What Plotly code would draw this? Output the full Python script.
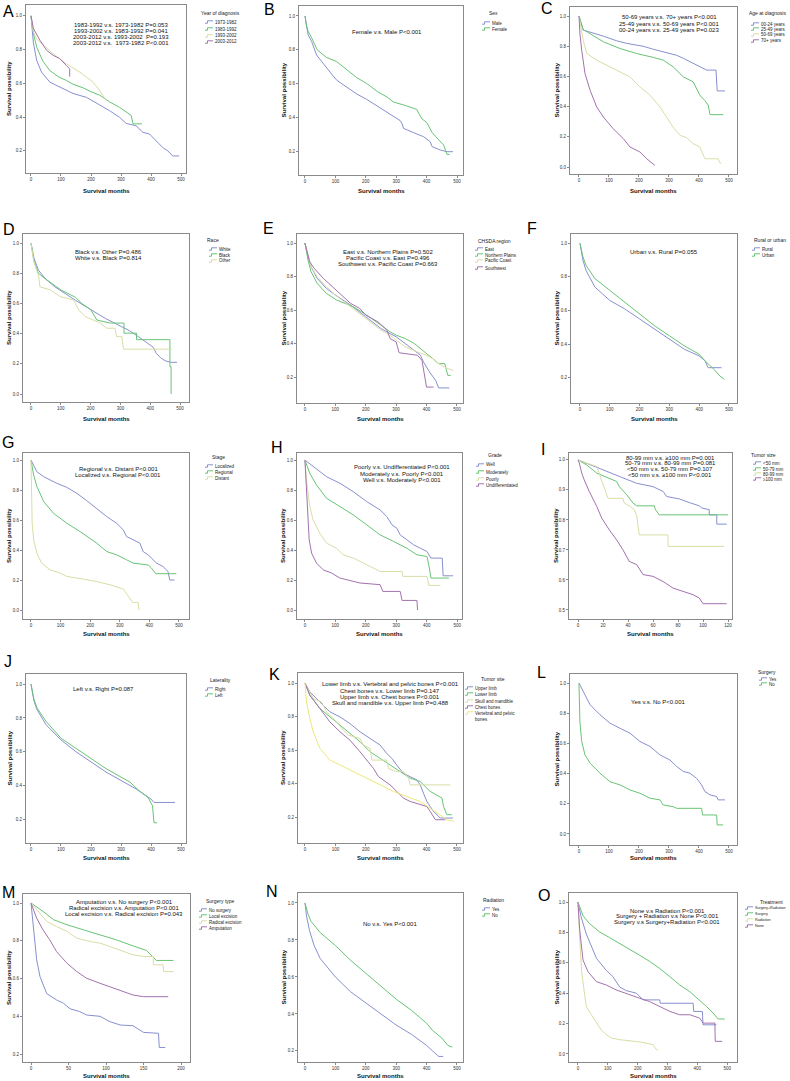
import plotly.graph_objects as go

W, H = 790, 1081
FONT = "Liberation Sans, Arial, sans-serif"
COLORS = ["#8790cf", "#68c474", "#dadda6", "#a372ae", "#ecea78"]

# ---------------- data ----------------
A_groups = ["1973-1982", "1983-1992", "1993-2002", "2003-2012"]
A_months = [
    [0, 8, 19, 35, 63, 96, 140, 185, 229, 262, 295, 317, 350, 373, 395, 417, 439, 456, 472, 494],
    [0, 5, 10, 20, 40, 63, 90, 118, 140, 174, 200, 229, 262, 295, 334, 340, 370],
    [0, 8, 20, 41, 74, 118, 163, 207, 229, 249],
    [0, 8, 30, 52, 74, 96, 118, 129, 129],
]
A_surv = [
    [1.0, 0.84, 0.736, 0.667, 0.607, 0.58, 0.54, 0.517, 0.474, 0.438, 0.399, 0.363, 0.349, 0.31, 0.30, 0.26, 0.22, 0.20, 0.17, 0.17],
    [1.0, 0.93, 0.88, 0.81, 0.73, 0.676, 0.64, 0.617, 0.595, 0.573, 0.55, 0.53, 0.49, 0.458, 0.41, 0.36, 0.36],
    [1.0, 0.905, 0.86, 0.825, 0.776, 0.716, 0.666, 0.607, 0.557, 0.504],
    [1.0, 0.925, 0.855, 0.796, 0.766, 0.746, 0.706, 0.686, 0.64],
]
A_pvals = ["1983-1992 v.s. 1973-1982 P=0.053", "1993-2002 v.s. 1983-1992 P=0.041",
           "2003-2012 v.s. 1993-2002  P=0.193", "2003-2012 v.s.  1973-1982 P<0.001"]

B_groups = ["Male", "Female"]
B_months = [
    [0, 5, 10, 22, 38, 55, 71, 88, 104, 120, 137, 170, 203, 236, 269, 291, 313, 320, 324, 357, 390, 412, 418, 445, 467, 487],
    [0, 5, 10, 22, 40, 70, 104, 140, 170, 203, 240, 270, 291, 330, 368, 375, 385, 400, 418, 430, 456, 462, 467, 476],
]
B_surv = [
    [1.0, 0.93, 0.89, 0.848, 0.769, 0.73, 0.69, 0.655, 0.62, 0.60, 0.58, 0.538, 0.506, 0.467, 0.433, 0.404, 0.38, 0.36, 0.334, 0.309, 0.285, 0.255, 0.226, 0.206, 0.196, 0.196],
    [1.0, 0.94, 0.91, 0.87, 0.80, 0.755, 0.73, 0.675, 0.635, 0.60, 0.55, 0.52, 0.49, 0.47, 0.446, 0.42, 0.39, 0.37, 0.31, 0.285, 0.236, 0.206, 0.18, 0.18],
]
B_pvals = ["Female v.s. Male P<0.001"]

C_groups = ["00-24 years", "25-49 years", "50-69 years", "70+ years"]
C_months = [
    [0, 14, 81, 126, 159, 214, 248, 303, 326, 348, 381, 403, 426, 457, 461, 487],
    [0, 14, 26, 81, 137, 192, 248, 281, 314, 348, 381, 403, 420, 431, 437, 481],
    [0, 5, 9, 14, 26, 59, 103, 137, 170, 203, 237, 270, 292, 314, 337, 359, 381, 403, 420, 464, 470, 475],
    [0, 3, 9, 20, 37, 59, 81, 114, 148, 170, 203, 226, 253],
]
C_surv = [
    [1.0, 0.907, 0.867, 0.836, 0.819, 0.80, 0.78, 0.752, 0.74, 0.72, 0.686, 0.664, 0.642, 0.642, 0.504, 0.504],
    [1.0, 0.91, 0.896, 0.83, 0.785, 0.752, 0.726, 0.708, 0.664, 0.597, 0.564, 0.476, 0.44, 0.41, 0.347, 0.347],
    [1.0, 0.95, 0.885, 0.84, 0.752, 0.708, 0.664, 0.63, 0.597, 0.531, 0.476, 0.398, 0.332, 0.265, 0.21, 0.195, 0.155, 0.133, 0.055, 0.055, 0.027, 0.027],
    [1.0, 0.885, 0.774, 0.62, 0.509, 0.398, 0.332, 0.254, 0.188, 0.133, 0.10, 0.055, 0.011],
]
C_pvals = ["50-69 years v.s. 70+ years P<0.001", "25-49 years v.s. 50-69 years P<0.001",
           "00-24 years v.s. 25-49 years P=0.023"]

D_groups = ["White", "Black", "Other"]
D_months = [
    [0, 10, 25, 50, 80, 110, 150, 200, 250, 300, 330, 360, 390, 410, 420, 435, 450, 470, 490],
    [0, 10, 25, 50, 100, 130, 150, 170, 200, 221, 266, 312, 312, 354, 354, 466, 466, 470, 470],
    [0, 9, 26, 30, 65, 98, 143, 160, 182, 209, 232, 254, 282, 287, 305, 310, 472],
]
D_surv = [
    [1.0, 0.9, 0.82, 0.76, 0.71, 0.67, 0.62, 0.56, 0.50, 0.45, 0.42, 0.38, 0.34, 0.31, 0.27, 0.24, 0.22, 0.21, 0.21],
    [1.0, 0.88, 0.80, 0.76, 0.69, 0.66, 0.64, 0.60, 0.56, 0.49, 0.47, 0.47, 0.403, 0.403, 0.36, 0.36, 0.18, 0.18, 0.0],
    [1.0, 0.88, 0.78, 0.71, 0.69, 0.645, 0.623, 0.557, 0.513, 0.49, 0.47, 0.436, 0.436, 0.38, 0.38, 0.297, 0.297],
]
D_pvals = ["Black v.s. Other P=0.486", "White v.s. Black P=0.814"]

E_groups = ["East", "Northern Plains", "Pacific Coast", "Southwest"]
E_months = [
    [0, 20, 40, 70, 100, 150, 200, 250, 280, 300, 330, 360, 380, 390, 400, 410, 430, 440, 475],
    [0, 10, 20, 40, 70, 104, 159, 203, 250, 280, 300, 330, 360, 380, 400, 420, 440, 460, 470, 480],
    [0, 20, 40, 70, 100, 150, 200, 250, 280, 300, 330, 370, 400, 420, 440, 470, 488],
    [0, 15, 30, 60, 90, 120, 150, 180, 200, 240, 270, 280, 300, 310, 370, 385, 400, 423],
]
E_surv = [
    [1.0, 0.86, 0.79, 0.73, 0.69, 0.63, 0.56, 0.49, 0.46, 0.44, 0.40, 0.36, 0.33, 0.29, 0.26, 0.23, 0.18, 0.135, 0.135],
    [1.0, 0.90, 0.83, 0.76, 0.70, 0.66, 0.62, 0.57, 0.51, 0.47, 0.45, 0.43, 0.40, 0.37, 0.34, 0.31, 0.28, 0.28, 0.21, 0.21],
    [1.0, 0.86, 0.80, 0.74, 0.69, 0.62, 0.55, 0.48, 0.45, 0.42, 0.38, 0.35, 0.33, 0.31, 0.28, 0.25, 0.24],
    [1.0, 0.89, 0.85, 0.79, 0.74, 0.69, 0.64, 0.61, 0.57, 0.53, 0.48, 0.43, 0.41, 0.345, 0.33, 0.30, 0.14, 0.14],
]
E_pvals = ["East v.s. Northern Plains P=0.502", "Pacific Coast v.s. East P=0.496",
           "Southwest v.s. Pacific Coast P=0.663"]

F_groups = ["Rural", "Urban"]
F_months = [
    [0, 10, 20, 50, 100, 150, 200, 250, 300, 350, 400, 420, 430, 475],
    [0, 10, 20, 50, 100, 150, 200, 250, 300, 350, 400, 420, 450, 470, 485],
]
F_surv = [
    [1.0, 0.9, 0.84, 0.74, 0.66, 0.61, 0.55, 0.49, 0.43, 0.37, 0.33, 0.30, 0.26, 0.26],
    [1.0, 0.92, 0.87, 0.79, 0.72, 0.65, 0.58, 0.51, 0.45, 0.39, 0.34, 0.30, 0.25, 0.21, 0.19],
]
F_pvals = ["Urban v.s. Rural P=0.055"]

G_groups = ["Localized", "Regional", "Distant"]
G_months = [
    [0, 20, 43, 87, 121, 155, 188, 222, 256, 289, 312, 323, 345, 368, 379, 396, 407, 424, 446, 463, 469, 485],
    [0, 9, 20, 43, 76, 121, 166, 200, 222, 256, 289, 323, 345, 396, 407, 422, 491],
    [0, 1, 4, 9, 20, 36, 64, 99, 121, 177, 222, 267, 312, 323, 334, 343, 362, 365],
]
G_surv = [
    [1.0, 0.922, 0.889, 0.845, 0.818, 0.778, 0.73, 0.678, 0.623, 0.579, 0.534, 0.49, 0.468, 0.446, 0.39, 0.368, 0.346, 0.313, 0.29, 0.257, 0.20, 0.20],
    [1.0, 0.90, 0.823, 0.723, 0.645, 0.579, 0.523, 0.479, 0.446, 0.39, 0.368, 0.335, 0.313, 0.30, 0.28, 0.242, 0.242],
    [1.0, 0.756, 0.579, 0.468, 0.379, 0.313, 0.268, 0.246, 0.224, 0.206, 0.19, 0.168, 0.14, 0.109, 0.08, 0.051, 0.051, 0.0],
]
G_pvals = ["Regional v.s. Distant P<0.001", "Localized v.s. Regional P<0.001"]

H_groups = ["Well", "Moderately", "Poorly", "Undifferentiated"]
H_months = [
    [0, 27, 71, 115, 159, 203, 247, 269, 286, 302, 313, 335, 357, 379, 401, 414, 451, 454, 487],
    [0, 5, 16, 38, 71, 115, 159, 203, 247, 291, 335, 368, 401, 407, 414, 473],
    [0, 5, 16, 27, 49, 71, 104, 126, 159, 181, 214, 247, 319, 322, 401, 407, 445],
    [0, 3, 8, 14, 22, 38, 60, 88, 115, 159, 181, 247, 256, 313, 319, 368, 370],
]
H_surv = [
    [1.0, 0.956, 0.889, 0.845, 0.789, 0.723, 0.667, 0.623, 0.568, 0.545, 0.501, 0.468, 0.435, 0.412, 0.39, 0.346, 0.346, 0.228, 0.228],
    [1.0, 0.967, 0.911, 0.834, 0.745, 0.69, 0.634, 0.568, 0.501, 0.457, 0.412, 0.368, 0.357, 0.30, 0.213, 0.213],
    [1.0, 0.867, 0.69, 0.60, 0.512, 0.446, 0.412, 0.368, 0.346, 0.324, 0.29, 0.257, 0.257, 0.224, 0.224, 0.164, 0.164],
    [1.0, 0.867, 0.667, 0.468, 0.379, 0.313, 0.268, 0.246, 0.213, 0.191, 0.18, 0.169, 0.124, 0.124, 0.064, 0.064, 0.0],
]
H_pvals = ["Poorly v.s. Undifferentiated P<0.001", "Moderately v.s. Poorly P<0.001",
           "Well v.s. Moderately P<0.001"]

I_groups = ["<50 mm", "50-79 mm", "80-99 mm", "≥100 mm"]
I_months = [
    [0, 7, 20, 33, 47, 60, 68, 71, 81, 89, 97, 99, 105, 105, 111, 111, 119],
    [0, 7, 15, 24, 31, 33, 39, 44, 47, 61, 62, 65, 120],
    [0, 3, 15, 19, 21, 24, 36, 37, 41, 45, 47, 48, 49, 72, 72, 117],
    [0, 1, 3, 5, 9, 15, 19, 25, 31, 36, 41, 47, 52, 60, 68, 76, 84, 92, 97, 100, 119],
]
I_surv = [
    [1.0, 0.989, 0.967, 0.945, 0.922, 0.911, 0.895, 0.878, 0.87, 0.858, 0.847, 0.84, 0.834, 0.817, 0.817, 0.786, 0.786],
    [1.0, 0.983, 0.956, 0.939, 0.928, 0.911, 0.884, 0.856, 0.847, 0.847, 0.834, 0.817, 0.817],
    [1.0, 0.995, 0.978, 0.933, 0.906, 0.872, 0.872, 0.856, 0.847, 0.834, 0.812, 0.784, 0.75, 0.75, 0.712, 0.712],
    [1.0, 0.99, 0.956, 0.933, 0.895, 0.845, 0.806, 0.767, 0.733, 0.70, 0.662, 0.651, 0.618, 0.612, 0.595, 0.573, 0.562, 0.551, 0.54, 0.521, 0.521],
]
I_pvals = ["80-99 mm v.s. ≥100 mm P=0.001", "50-79 mm v.s. 80-99 mm P=0.081",
           "<50 mm v.s. 50-79 mm P=0.107", "<50 mm v.s. ≥100 mm P<0.001"]

J_groups = ["Right", "Left"]
J_months = [
    [0, 10, 20, 50, 100, 150, 200, 250, 300, 350, 400, 410, 480],
    [0, 10, 20, 50, 100, 150, 200, 250, 300, 330, 360, 390, 405, 410, 420],
]
J_surv = [
    [1.0, 0.9, 0.85, 0.76, 0.67, 0.60, 0.54, 0.48, 0.43, 0.38, 0.32, 0.30, 0.30],
    [1.0, 0.91, 0.86, 0.78, 0.68, 0.62, 0.56, 0.50, 0.45, 0.42, 0.37, 0.33, 0.28, 0.18, 0.18],
]
J_pvals = ["Left v.s. Right P=0.087"]

K_groups = ["Upper limb", "Lower limb", "Skull and mandible", "Chest bones", "Vertebral and pelvic bones"]
K_months = [
    [0, 16, 49, 82, 115, 148, 181, 214, 247, 269, 286, 302, 324, 346, 368, 379, 390, 401, 412, 423, 445, 487],
    [0, 16, 49, 82, 115, 148, 181, 214, 247, 280, 313, 346, 379, 396, 412, 451, 456, 467, 483],
    [0, 27, 55, 71, 104, 126, 143, 159, 181, 192, 214, 220, 269, 275, 302, 324, 341, 346, 478],
    [0, 16, 49, 82, 115, 148, 181, 203, 225, 242, 258, 280, 302, 324, 346, 379, 401, 412, 429, 462],
    [0, 5, 16, 27, 49, 82, 115, 159, 203, 247, 291, 335, 379, 412, 445, 467, 489],
]
K_surv = [
    [1.0, 0.947, 0.887, 0.828, 0.798, 0.758, 0.709, 0.669, 0.63, 0.58, 0.55, 0.51, 0.461, 0.441, 0.422, 0.392, 0.342, 0.293, 0.263, 0.234, 0.194, 0.194],
    [1.0, 0.927, 0.848, 0.798, 0.749, 0.70, 0.65, 0.59, 0.55, 0.511, 0.471, 0.432, 0.412, 0.382, 0.353, 0.313, 0.263, 0.214, 0.214],
    [1.0, 0.907, 0.887, 0.828, 0.768, 0.719, 0.689, 0.68, 0.669, 0.63, 0.61, 0.54, 0.54, 0.49, 0.471, 0.471, 0.432, 0.392, 0.392],
    [1.0, 0.927, 0.848, 0.768, 0.709, 0.659, 0.59, 0.54, 0.491, 0.441, 0.422, 0.392, 0.353, 0.313, 0.293, 0.273, 0.263, 0.234, 0.184, 0.184],
    [1.0, 0.887, 0.788, 0.709, 0.61, 0.54, 0.511, 0.471, 0.432, 0.392, 0.353, 0.323, 0.293, 0.253, 0.214, 0.184, 0.174],
]
K_pvals = ["Lower limb v.s. Vertebral and pelvic bones P<0.001", "Chest bones v.s. Lower limb P=0.147",
           "Upper limb v.s. Chest bones P<0.001", "Skull and mandible v.s. Upper limb P=0.488"]

L_groups = ["Yes", "No"]
L_months = [
    [0, 14, 37, 70, 103, 137, 170, 203, 237, 270, 303, 326, 348, 370, 392, 409, 420, 437, 459, 464, 487],
    [0, 1, 3, 9, 20, 37, 70, 103, 137, 170, 203, 237, 270, 281, 314, 326, 409, 412, 459, 461, 481],
]
L_surv = [
    [1.0, 0.945, 0.856, 0.79, 0.735, 0.70, 0.668, 0.613, 0.58, 0.524, 0.491, 0.447, 0.414, 0.403, 0.369, 0.325, 0.281, 0.259, 0.248, 0.226, 0.226],
    [1.0, 0.90, 0.745, 0.613, 0.524, 0.469, 0.403, 0.347, 0.325, 0.292, 0.27, 0.237, 0.226, 0.192, 0.181, 0.17, 0.17, 0.126, 0.126, 0.06, 0.06],
]
L_pvals = ["Yes v.s. No P<0.001"]

M_groups = ["No surgery", "Local excision", "Radical excision", "Amputation"]
M_months = [
    [0, 3, 7.5, 12, 21, 34, 43, 52, 65, 74, 92, 105, 119, 136, 150, 170, 171, 179],
    [0, 16, 30, 48, 70, 92, 114, 136, 154, 163, 167, 190],
    [0, 12, 21, 34, 48, 61, 79, 92, 105, 119, 136, 150, 163, 163, 176, 177, 190],
    [0, 3, 7.5, 16, 25, 34, 48, 61, 74, 92, 110, 123, 136, 150, 183],
]
M_surv = [
    [1.0, 0.876, 0.70, 0.61, 0.52, 0.487, 0.47, 0.44, 0.425, 0.407, 0.40, 0.372, 0.354, 0.35, 0.315, 0.31, 0.235, 0.235],
    [1.0, 0.956, 0.912, 0.885, 0.858, 0.832, 0.805, 0.773, 0.749, 0.713, 0.696, 0.696],
    [1.0, 0.947, 0.903, 0.876, 0.85, 0.814, 0.796, 0.788, 0.77, 0.752, 0.726, 0.717, 0.717, 0.673, 0.673, 0.637, 0.637],
    [1.0, 0.965, 0.92, 0.858, 0.805, 0.743, 0.681, 0.637, 0.602, 0.575, 0.549, 0.531, 0.513, 0.504, 0.504],
]
M_pvals = ["Amputation v.s. No surgery P<0.001", "Radical excision v.s. Amputation P<0.001",
           "Local excision v.s. Radical excision P=0.043"]

N_groups = ["Yes", "No"]
N_months = [
    [0, 5, 15, 30, 50, 100, 150, 200, 250, 300, 350, 400, 420, 440, 455],
    [0, 10, 20, 50, 100, 150, 200, 250, 300, 350, 400, 420, 450, 470, 485],
]
N_surv = [
    [1.0, 0.93, 0.85, 0.77, 0.70, 0.60, 0.52, 0.46, 0.40, 0.34, 0.29, 0.23, 0.20, 0.17, 0.17],
    [1.0, 0.94, 0.90, 0.84, 0.77, 0.69, 0.62, 0.55, 0.48, 0.42, 0.35, 0.31, 0.27, 0.23, 0.22],
]
N_pvals = ["No v.s. Yes P<0.001"]

O_groups = ["Surgery+Radiation", "Surgery", "Radiation", "None"]
O_months = [
    [0, 11, 28, 45, 62, 95, 117, 140, 162, 196, 218, 274, 276, 386, 388, 417, 419, 464],
    [0, 17, 39, 73, 106, 140, 173, 207, 240, 274, 308, 341, 375, 408, 431, 453, 470, 492],
    [0, 3, 8, 13, 19, 28, 45, 62, 78, 95, 112, 140, 218, 252, 263, 268],
    [0, 6, 17, 34, 62, 95, 129, 162, 207, 240, 274, 308, 341, 375, 408, 420, 459, 460, 483],
]
O_surv = [
    [1.0, 0.90, 0.79, 0.705, 0.63, 0.55, 0.51, 0.44, 0.417, 0.40, 0.356, 0.356, 0.334, 0.334, 0.28, 0.28, 0.192, 0.192],
    [1.0, 0.91, 0.858, 0.803, 0.766, 0.727, 0.694, 0.65, 0.61, 0.563, 0.509, 0.454, 0.41, 0.356, 0.312, 0.269, 0.23, 0.23],
    [1.0, 0.836, 0.683, 0.53, 0.432, 0.312, 0.258, 0.203, 0.159, 0.127, 0.105, 0.094, 0.076, 0.061, 0.028, 0.028],
    [1.0, 0.815, 0.618, 0.541, 0.476, 0.454, 0.421, 0.40, 0.367, 0.345, 0.312, 0.28, 0.258, 0.258, 0.236, 0.203, 0.203, 0.083, 0.083],
]
O_pvals = ["None v.s Radiation P<0.001", "Surgery + Radiation v.s None P<0.001",
           "Surgery v.s Surgery+Radiation P<0.001"]

LEGEND_TITLES = {"A": "Year of diagnosis", "B": "Sex", "C": "Age at diagnosis", "D": "Race",
                 "E": "CHSDA region", "F": "Rural or urban", "G": "Stage", "H": "Grade",
                 "I": "Tumor size", "J": "Laterality", "K": "Tumor site", "L": "Surgery",
                 "M": "Surgery type", "N": "Radiation", "O": "Treatment"}

DATA = {
    "A": (A_groups, A_months, A_surv, A_pvals), "B": (B_groups, B_months, B_surv, B_pvals),
    "C": (C_groups, C_months, C_surv, C_pvals), "D": (D_groups, D_months, D_surv, D_pvals),
    "E": (E_groups, E_months, E_surv, E_pvals), "F": (F_groups, F_months, F_surv, F_pvals),
    "G": (G_groups, G_months, G_surv, G_pvals), "H": (H_groups, H_months, H_surv, H_pvals),
    "I": (I_groups, I_months, I_surv, I_pvals), "J": (J_groups, J_months, J_surv, J_pvals),
    "K": (K_groups, K_months, K_surv, K_pvals), "L": (L_groups, L_months, L_surv, L_pvals),
    "M": (M_groups, M_months, M_surv, M_pvals), "N": (N_groups, N_months, N_surv, N_pvals),
    "O": (O_groups, O_months, O_surv, O_pvals),
}

# ---------------- layout configuration (pixel positions) ----------------
CFG = {
    "A": dict(box=(26, 5, 186, 173), xr=(-16.6, 516.6), yr=(0.069, 1.064), xd=100, yd=0.2, letter=(8, 11),
              leg=(205, 220, 13, [22, 29, 36, 42]), pv=(121, [25, 31, 37, 43], "center")),
    "B": dict(box=(299, 6, 463, 175), xr=(-19.7, 519.7), yr=(0.058, 1.059), xd=100, yd=0.2, letter=(269, 10),
              leg=(482, 493, 13, [23, 29]), pv=(387, [32], "center")),
    "C": dict(box=(570, 7, 737, 174), xr=(-30, 527), yr=(-0.046, 1.06), xd=100, yd=0.2, letter=(547, 9),
              leg=(751, 767, 13, [24, 29, 35, 41]), pv=(669, [17, 24, 30], "center")),
    "D": dict(box=(23, 234, 189, 402), xr=(-26.8, 530), yr=(-0.053, 1.06), xd=100, yd=0.2, letter=(9, 230),
              leg=(209, 213, 240, [249, 255, 261]), pv=(74, [252, 258], "left")),
    "E": dict(box=(297, 234, 463, 403), xr=(-26, 520), yr=(0.045, 1.054), xd=100, yd=0.2, letter=(268, 229),
              leg=(475, 494, 241, [249, 255, 261, 268]), pv=(388, [252, 258, 264], "center")),
    "F": dict(box=(571, 234, 737, 403), xr=(-30, 527), yr=(0.05, 1.055), xd=100, yd=0.2, letter=(532, 229),
              leg=(752, 770, 240, [249, 255]), pv=(664, [252], "center")),
    "G": dict(box=(23, 453, 189, 619), xr=(-27, 534), yr=(-0.06, 1.047), xd=100, yd=0.2, letter=(8, 442),
              leg=(205, 219, 457, [466, 472, 478]), pv=(118, [469, 475], "center")),
    "H": dict(box=(297, 453, 462, 619), xr=(-26, 516), yr=(-0.06, 1.047), xd=100, yd=0.2, letter=(277, 447),
              leg=(476, 495, 455, [465, 472, 479, 485]), pv=(402, [467, 474, 480], "center")),
    "I": dict(box=(569, 453, 732, 619), xr=(-7.2, 123.2), yr=(0.47, 1.023), xd=20, yd=0.1, letter=(543, 449),
              leg=(753, 763, 455, [463, 469, 474, 479]), pv=(670, [458, 463, 469, 475], "center")),
    "J": dict(box=(26, 674, 186, 843), xr=(-16.6, 516.6), yr=(0.06, 1.06), xd=100, yd=0.2, letter=(8, 661),
              leg=(205, 220, 680, [689, 695]), pv=(103, [689], "center")),
    "K": dict(box=(298, 673, 463, 843), xr=(-23, 520), yr=(0.045, 1.06), xd=100, yd=0.2, letter=(274, 674),
              leg=(465, 493, 679, [688, 694, 701, 707, 713]), pv=(390, [684, 691, 697, 703], "center")),
    "L": dict(box=(570, 674, 737, 845), xr=(-30, 527), yr=(-0.073, 1.06), xd=100, yd=0.2, letter=(541, 672),
              leg=(759, 767, 672, [679, 684]), pv=(658, [702], "center")),
    "M": dict(box=(23, 894, 190, 1062), xr=(-10.7, 212), yr=(0.158, 1.048), xd=50, yd=0.2, letter=(8, 892),
              leg=(199, 220, 901, [910, 916, 922, 928]), pv=(124, [902, 908, 914], "center")),
    "N": dict(box=(298, 893, 463, 1062), xr=(-23, 520), yr=(0.14, 1.054), xd=100, yd=0.2, letter=(272, 891),
              leg=(482, 493, 900, [909, 915]), pv=(390, [924], "center")),
    "O": dict(box=(569, 893, 737, 1062), xr=(-30, 533), yr=(-0.053, 1.06), xd=100, yd=0.2, letter=(544, 895),
              leg=(745, 771, 902, [908, 914, 920, 926]), pv=(667, [911, 916, 922], "center"), lf=3.7),
}
ORDER = "ABCDEFGHIJKLMNO"
XTITLE_Y = [191, 419, 634, 858, 1076]
YTITLE_X = [9, 283, 556]


def px(x):
    return x / W


def py(y):
    return 1 - y / H


fig = go.Figure()
layout = dict(width=W, height=H, margin=dict(l=0, r=0, t=0, b=0), autosize=False,
              paper_bgcolor="white", plot_bgcolor="white", showlegend=False,
              font=dict(family=FONT, color="#000"))
annotations = []
shapes = []

for idx, key in enumerate(ORDER):
    n = idx + 1
    cfg = CFG[key]
    groups, months, surv, pvals = DATA[key]
    xa = "x" if n == 1 else f"x{n}"
    ya = "y" if n == 1 else f"y{n}"
    for gi, (g, t, s) in enumerate(zip(groups, months, surv)):
        fig.add_trace(go.Scatter(x=t, y=s, mode="lines", name=g, xaxis=xa, yaxis=ya,
                                 line=dict(color=COLORS[gi], width=1), hoverinfo="skip"))
    x0, y0, x1, y1 = cfg["box"]
    axcommon = dict(showline=True, mirror=True, linecolor="#8a8a8a", linewidth=1, showgrid=False,
                    zeroline=False, ticks="outside", ticklen=2, tickwidth=1, tickcolor="#8a8a8a",
                    tickfont=dict(size=4.5, color="#333", family=FONT), automargin=False, fixedrange=True)
    layout["xaxis" if n == 1 else f"xaxis{n}"] = dict(
        domain=[px(x0), px(x1)], anchor=ya, range=list(cfg["xr"]), tick0=0, dtick=cfg["xd"], **axcommon)
    layout["yaxis" if n == 1 else f"yaxis{n}"] = dict(
        domain=[py(y1), py(y0)], anchor=xa, range=list(cfg["yr"]), tick0=0, dtick=cfg["yd"],
        tickformat=".1f", **axcommon)

    row, col = idx // 3, idx % 3
    annotations.append(dict(text="<b>Survival months</b>", x=px((x0 + x1) / 2), y=py(XTITLE_Y[row]),
                            xref="paper", yref="paper", showarrow=False, xanchor="center", yanchor="middle",
                            borderpad=0, font=dict(size=6, family=FONT, color="#111")))
    annotations.append(dict(text="<b>Survival possibility</b>", x=px(YTITLE_X[col]), y=py((y0 + y1) / 2),
                            xref="paper", yref="paper", showarrow=False, xanchor="center", yanchor="middle",
                            textangle=-90, borderpad=0, font=dict(size=6, family=FONT, color="#111")))
    lx, ly = cfg["letter"]
    annotations.append(dict(text=key, x=px(lx), y=py(ly), xref="paper", yref="paper", showarrow=False,
                            xanchor="center", yanchor="middle", borderpad=0,
                            font=dict(size=16, family=FONT, color="#000")))
    pvx, pvys, align = cfg["pv"]
    for txt, yy in zip(pvals, pvys):
        annotations.append(dict(text=txt, x=px(pvx), y=py(yy), xref="paper", yref="paper", showarrow=False,
                                xanchor=align, yanchor="middle", borderpad=0,
                                font=dict(size=6, family=FONT, color="#111")))
    gx, tcx, ty, iys = cfg["leg"]
    lf = cfg.get("lf", 4.5)
    annotations.append(dict(text=LEGEND_TITLES[key], x=px(tcx), y=py(ty), xref="paper", yref="paper",
                            showarrow=False, xanchor="center", yanchor="middle", borderpad=0,
                            font=dict(size=5, family=FONT, color="#222")))
    for gi, (g, iy) in enumerate(zip(groups, iys)):
        path = (f"M {px(gx)},{py(iy + 1.2)} L {px(gx + 2.5)},{py(iy + 1.2)} "
                f"L {px(gx + 2.5)},{py(iy - 1.2)} L {px(gx + 8)},{py(iy - 1.2)}")
        shapes.append(dict(type="path", path=path, xref="paper", yref="paper",
                           line=dict(color=COLORS[gi], width=1)))
        if g == "Vertebral and pelvic bones":
            annotations.append(dict(text="Vertebral and pelvic<br>bones", x=px(gx + 8.5), y=py(iy - 3),
                                    xref="paper", yref="paper", showarrow=False, xanchor="left",
                                    yanchor="top", align="left", borderpad=0,
                                    font=dict(size=lf, family=FONT, color="#222")))
        else:
            annotations.append(dict(text=g, x=px(gx + 8.5), y=py(iy), xref="paper", yref="paper",
                                    showarrow=False, xanchor="left", yanchor="middle", borderpad=0,
                                    font=dict(size=lf, family=FONT, color="#222")))

layout["annotations"] = annotations
layout["shapes"] = shapes
fig.update_layout(**layout)
fig.write_html("out.html", config={"displayModeBar": False},
               post_script="document.body.style.margin='0px';document.body.style.overflow='hidden';")
